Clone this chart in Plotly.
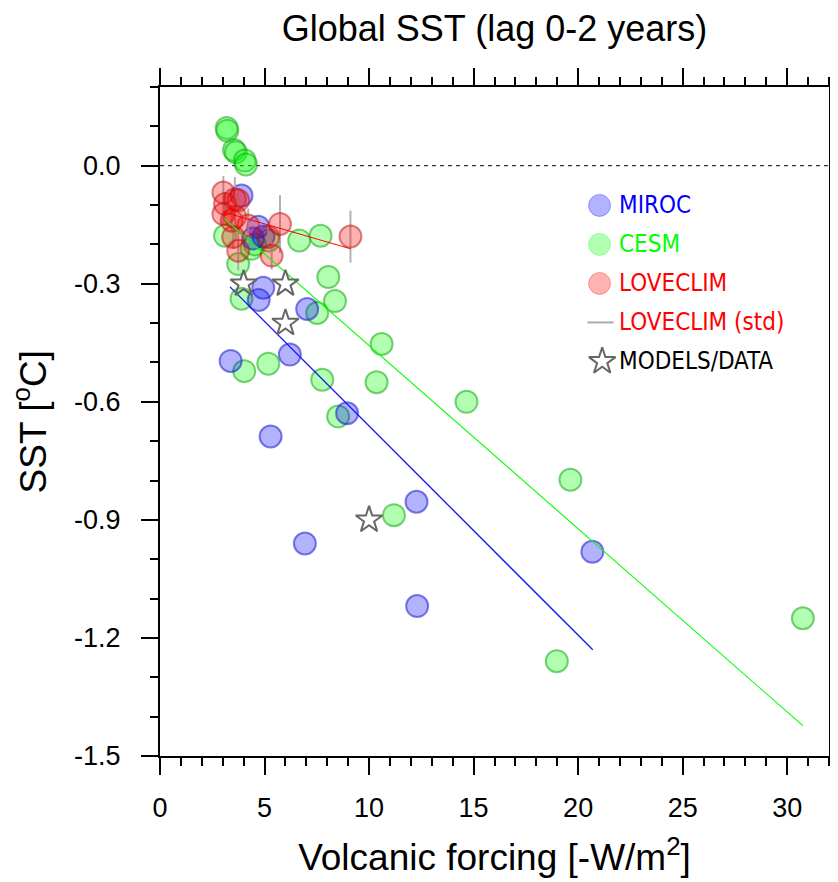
import plotly.graph_objects as go

# MIROC ensemble members
miroc_x = [3.90, 4.70, 4.45, 4.95, 4.94, 4.72, 7.04, 3.38, 6.21, 8.95, 5.29, 12.27, 6.93, 12.30, 20.68]
miroc_y = [-0.076, -0.155, -0.185, -0.180, -0.310, -0.341, -0.364, -0.496, -0.480, -0.629, -0.688, -0.854, -0.960, -1.119, -0.981]

# CESM ensemble members
cesm_x = [3.19, 3.22, 3.54, 3.63, 4.06, 4.11, 3.11, 3.74, 4.38, 4.54, 5.20, 6.66, 7.68, 8.05,
          3.90, 7.52, 8.37, 10.60, 4.03, 5.18, 7.76, 10.36, 8.52, 14.66, 11.19, 19.63, 18.98, 30.75]
cesm_y = [0.096, 0.089, 0.040, 0.034, 0.013, 0.003, -0.178, -0.250, -0.211, -0.200, -0.190, -0.190, -0.178, -0.283,
          -0.338, -0.374, -0.344, -0.453, -0.522, -0.503, -0.544, -0.550, -0.637, -0.600, -0.888, -0.798, -1.259, -1.150]

# LOVECLIM ensemble members and their std
lc_x = [3.03, 3.11, 3.03, 3.58, 3.74, 3.43, 3.60, 4.22, 5.74, 9.11, 5.18, 3.50, 3.74, 5.34]
lc_y = [-0.068, -0.097, -0.123, -0.085, -0.088, -0.140, -0.130, -0.152, -0.148, -0.180, -0.181, -0.181, -0.216, -0.228]
lc_std = [0.042, 0.030, 0.030, 0.056, 0.030, 0.030, 0.030, 0.043, 0.073, 0.066, 0.030, 0.030, 0.050, 0.036]

# other models / data
models_x = [4, 6, 6, 10]
models_y = [-0.3, -0.3, -0.4, -0.9]

# regression lines (end points)
miroc_fit_x = [3.35, 20.70]
miroc_fit_y = [-0.308, -1.230]
cesm_fit_x = [3.06, 30.75]
cesm_fit_y = [-0.134, -1.423]
lc_fit_x = [3.00, 9.11]
lc_fit_y = [-0.117, -0.211]

y_ticks = [-1.5, -1.2, -0.9, -0.6, -0.3, 0.0]
y_ticklabels = ['-1.5', '-1.2', '-0.9', '-0.6', '-0.3', '0.0']
x_ticks = [0, 5, 10, 15, 20, 25, 30]

legend_names = ['MIROC', 'CESM', 'LOVECLIM', 'LOVECLIM (std)', 'MODELS/DATA']

BLUE = dict(fill='rgba(0,0,255,0.30)', edge='rgba(30,30,200,0.55)')
GREEN = dict(fill='rgba(0,255,0,0.30)', edge='rgba(20,170,20,0.55)')
RED = dict(fill='rgba(255,0,0,0.30)', edge='rgba(190,20,20,0.50)')
MSIZE = 22

fig = go.Figure()

# zero line
fig.add_shape(type='line', xref='paper', x0=0, x1=1, yref='y', y0=0, y1=0,
              line=dict(color='black', width=1, dash='4px,4px'), layer='below')

def circles(x, y, c, err=None):
    kw = {}
    if err is not None:
        kw['error_y'] = dict(type='data', array=err, symmetric=True, color='rgba(170,170,170,0.9)',
                             thickness=2, width=0)
    fig.add_trace(go.Scatter(x=x, y=y, mode='markers', showlegend=False,
                             marker=dict(size=MSIZE, color=c['fill'], line=dict(color=c['edge'], width=2)), **kw))

circles(cesm_x, cesm_y, GREEN)
circles(miroc_x, miroc_y, BLUE)
circles(lc_x, lc_y, RED, lc_std)

for fx, fy, col, w in [(miroc_fit_x, miroc_fit_y, '#1010ff', 1.3), (cesm_fit_x, cesm_fit_y, '#00ff00', 1.1),
                       (lc_fit_x, lc_fit_y, '#ff0000', 1)]:
    fig.add_trace(go.Scatter(x=fx, y=fy, mode='lines', showlegend=False, line=dict(color=col, width=w)))

STAR = dict(symbol='star-open', size=20, color='#666666', line=dict(color='#666666', width=2))
fig.add_trace(go.Scatter(x=models_x, y=models_y, mode='markers', showlegend=False, marker=STAR))

# hand-made legend on an overlay axis (0..1 over the plot area)
lx, ly0, dy = 0.657, 0.823, 0.0583
ly = [ly0 - i * dy for i in range(5)]
for i, c in enumerate([BLUE, GREEN, RED]):
    fig.add_trace(go.Scatter(x=[lx], y=[ly[i]], xaxis='x2', yaxis='y2', mode='markers', showlegend=False,
                             marker=dict(size=MSIZE, color=c['fill'], line=dict(color=c['fill'], width=1))))
fig.add_trace(go.Scatter(x=[0.639, 0.678], y=[ly[3], ly[3]], xaxis='x2', yaxis='y2', mode='lines',
                         showlegend=False, line=dict(color='#aaaaaa', width=2)))
fig.add_trace(go.Scatter(x=[lx + 0.004], y=[ly[4]], xaxis='x2', yaxis='y2', mode='markers', showlegend=False,
                         marker=STAR))

legend_colors = ['#0000ff', '#00ff00', '#ff0000', '#ff0000', '#000000']
for name, yy, col in zip(legend_names, ly, legend_colors):
    fig.add_annotation(x=0.6826, y=yy, xref='x2', yref='y2', text=name, showarrow=False,
                       xanchor='left', yanchor='middle',
                       font=dict(family='DejaVu Sans Condensed, Liberation Sans', size=24, color=col))

font = 'Liberation Sans, Arial, sans-serif'

# y axis title as a rotated annotation so it can sit further left
fig.add_annotation(text='SST [<sup>o</sup>C]', xref='paper', yref='paper', x=-0.193, y=0.5,
                   xanchor='center', yanchor='middle', textangle=-90, showarrow=False,
                   font=dict(family=font, size=37, color='black'))

axis_common = dict(showline=True, linecolor='black', linewidth=2, mirror='ticks', ticks='outside',
                   ticklen=17, tickwidth=2, tickcolor='black', showgrid=False, zeroline=False,
                   automargin=False, tickfont=dict(family=font, size=27, color='black'))

# the page body has an 8px margin, so the plot margins are trimmed by 8px on the top/left
fig.update_layout(
    width=838, height=882, autosize=False,
    paper_bgcolor='white', plot_bgcolor='white',
    margin=dict(l=152, r=17, t=79, b=134),
    title=dict(text='Global SST (lag 0-2 years)', x=0.5, xref='paper', xanchor='center',
               y=1 - 20 / 882, yref='container', yanchor='middle',
               font=dict(family=font, size=36, color='black')),
    xaxis=dict(range=[0, 32], tickvals=x_ticks, ticklabelstandoff=10,
               minor=dict(dtick=1, ticklen=8, tickwidth=1.5, tickcolor='black', ticks='outside'),
               title=dict(text='Volcanic forcing [-W/m<sup>2</sup>]', font=dict(family=font, size=37, color='black'),
                          standoff=22),
               **axis_common),
    yaxis=dict(range=[-1.5, 0.2], tickvals=y_ticks, ticktext=y_ticklabels, ticklabelstandoff=15,
               minor=dict(dtick=0.1, tick0=0, ticklen=8, tickwidth=1.5, tickcolor='black', ticks='outside'),
               **axis_common),
    xaxis2=dict(range=[0, 1], overlaying='x', visible=False),
    yaxis2=dict(range=[0, 1], overlaying='y', visible=False),
)

fig.write_html('out.html')
